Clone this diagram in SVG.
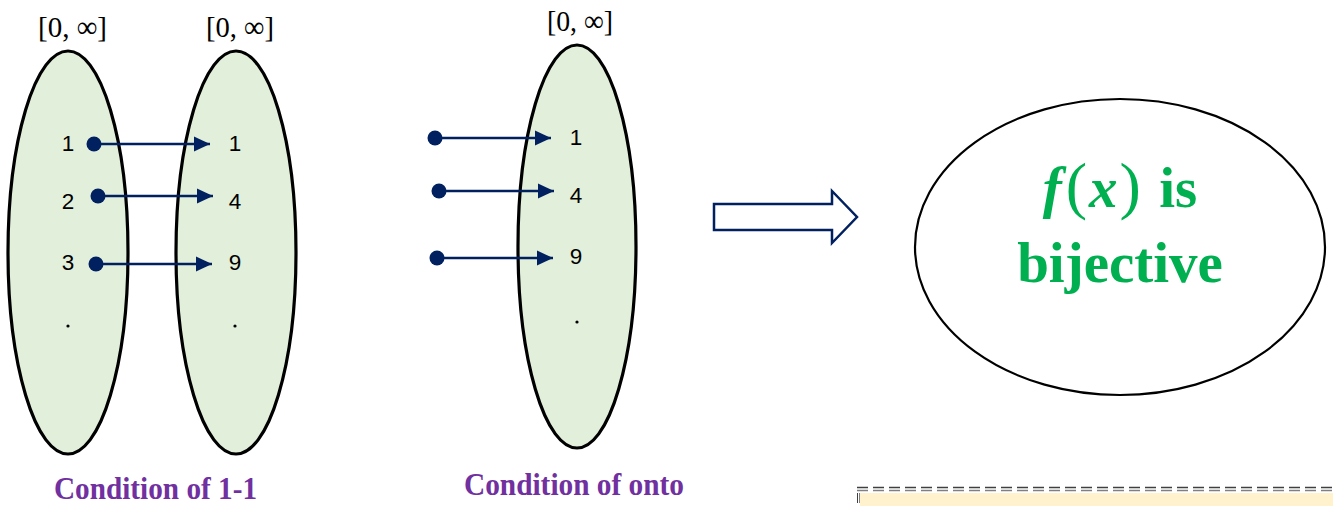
<svg xmlns="http://www.w3.org/2000/svg" width="1333" height="506" viewBox="0 0 1333 506">
<style>
.set{fill:#e2efda;stroke:#000;stroke-width:3.2}
.num{font-family:"Liberation Sans",Arial,sans-serif;font-size:22.5px;fill:#000;text-anchor:middle}
.intv{font-family:"Liberation Serif","Times New Roman",serif;font-size:30px;fill:#000}
.cond{font-family:"Liberation Serif","Times New Roman",serif;font-weight:bold;font-size:31px;fill:#7030a0}
.conn{stroke:#002060;stroke-width:2.5;fill:none}
.dot{fill:#002060}
.res{font-family:"Liberation Serif","Times New Roman",serif;font-weight:bold;font-size:57px;fill:#00b050;text-anchor:middle}
</style>
<defs>
<marker id="ah" viewBox="0 0 16 16" refX="16" refY="8" markerWidth="16" markerHeight="16" markerUnits="userSpaceOnUse" orient="auto">
<path d="M0,0.5 L16,8 L0,15.5 Z" fill="#002060"/>
</marker>
</defs>
<g id="domain">
<ellipse class="set" cx="68" cy="252.5" rx="60" ry="201.5"/>
<text class="intv" x="38" y="37" textLength="69" lengthAdjust="spacingAndGlyphs">[0, ∞]</text>
<text class="num" x="68" y="151">1</text>
<text class="num" x="68" y="209">2</text>
<text class="num" x="68" y="270">3</text>
<circle cx="68" cy="326" r="1.6" fill="#000"/>
</g>
<g id="codomain1">
<ellipse class="set" cx="236" cy="252.5" rx="60" ry="201.5"/>
<text class="intv" x="206" y="37" textLength="68" lengthAdjust="spacingAndGlyphs">[0, ∞]</text>
<text class="num" x="235" y="151">1</text>
<text class="num" x="235" y="209">4</text>
<text class="num" x="235" y="270">9</text>
<circle cx="235" cy="326" r="1.6" fill="#000"/>
</g>
<g id="codomain2">
<ellipse class="set" cx="577" cy="246.5" rx="59" ry="201.5"/>
<text class="intv" x="547" y="31" textLength="66" lengthAdjust="spacingAndGlyphs">[0, ∞]</text>
<text class="num" x="576" y="145">1</text>
<text class="num" x="576" y="203">4</text>
<text class="num" x="576" y="264">9</text>
<circle cx="577" cy="322" r="1.6" fill="#000"/>
</g>
<g id="connectors">
<line class="conn" x1="94" y1="144" x2="210" y2="144" marker-end="url(#ah)"/>
<circle class="dot" cx="94" cy="144" r="7.5"/>
<line class="conn" x1="98" y1="196" x2="213" y2="196" marker-end="url(#ah)"/>
<circle class="dot" cx="98" cy="196" r="7.5"/>
<line class="conn" x1="96" y1="264" x2="212" y2="264" marker-end="url(#ah)"/>
<circle class="dot" cx="96" cy="264" r="7.5"/>
<line class="conn" x1="435" y1="138" x2="551" y2="138" marker-end="url(#ah)"/>
<circle class="dot" cx="435" cy="138" r="7.5"/>
<line class="conn" x1="439" y1="191" x2="554" y2="191" marker-end="url(#ah)"/>
<circle class="dot" cx="439" cy="191" r="7.5"/>
<line class="conn" x1="437" y1="258" x2="553" y2="258" marker-end="url(#ah)"/>
<circle class="dot" cx="437" cy="258" r="7.5"/>
</g>
<g id="labels">
<text class="cond" x="54" y="499" textLength="203" lengthAdjust="spacingAndGlyphs">Condition of 1-1</text>
<text class="cond" x="464" y="495" textLength="220" lengthAdjust="spacingAndGlyphs">Condition of onto</text>
</g>
<g id="implies">
<path d="M714,204 L832,204 L832,191 L857,217 L832,243 L832,230 L714,230 Z" fill="#fff" stroke="#002060" stroke-width="2.5" stroke-linejoin="miter"/>
</g>
<g id="result">
<ellipse cx="1120" cy="247" rx="205" ry="148" fill="#fff" stroke="#000" stroke-width="2.2"/>
<text class="res" x="1120" y="207"><tspan font-style="italic">f</tspan><tspan font-weight="normal" font-size="64" dx="4">(</tspan><tspan font-style="italic" dx="2">x</tspan><tspan font-weight="normal" font-size="64" dx="2">)</tspan><tspan dx="4"> is</tspan></text>
<text class="res" x="1120" y="282">bijective</text>
</g>
<g id="artifact">
<rect x="860" y="493" width="473" height="13" fill="#fff2cc"/>
<line x1="857" y1="487.5" x2="1333" y2="487.5" stroke="#404040" stroke-width="1.5" stroke-dasharray="11 5"/>
<line x1="857" y1="490.5" x2="1333" y2="490.5" stroke="#808080" stroke-width="1.5" stroke-dasharray="11 5"/>
<line x1="857.5" y1="493" x2="857.5" y2="503" stroke="#404040" stroke-width="1"/>
<line x1="859.5" y1="493" x2="859.5" y2="503" stroke="#808080" stroke-width="1"/>
</g>
</svg>
